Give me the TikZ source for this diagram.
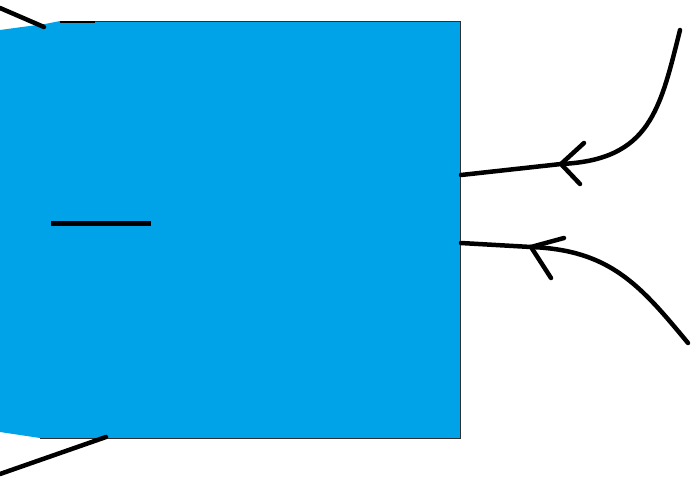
\documentclass[tikz,border=0pt]{standalone}
\definecolor{paintblue}{HTML}{00A2E8}
\definecolor{edgegray}{HTML}{303030}
\tikzset{
  pen/.style={line width=4.5pt, line cap=round, line join=round, black},
  barb/.style={line width=4.5pt, line cap=round, black},
  outline/.style={line width=1pt, draw=edgegray}
}
\begin{document}
\begin{tikzpicture}[x=1pt,y=-1pt]
\useasboundingbox (0,0) rectangle (696,477);
% blue body
\fill[paintblue] (0,30) -- (22,27) -- (45,24) -- (60,21) -- (460,21) -- (460,438) -- (40,438) -- (20,435) -- (0,432) -- cycle;
\draw[outline] (60,21) -- (460,21) -- (460,438) -- (40,438);
\draw[line width=2.5pt] (60,22) -- (95,22);
% left lines
\coordinate (tl0) at (0,8);
\coordinate (tl1) at (44,27);
\draw[pen] (tl0) -- (tl1);
\coordinate (bl0) at (0,474);
\coordinate (bl1) at (106,437);
\draw[pen] (bl0) -- (bl1);
% minus sign
\coordinate (m0) at (51,223.5);
\coordinate (m1) at (151,223.5);
\draw[line width=5pt] (m0) -- (m1);
% upper arrow
\coordinate (ua0) at (680,30);
\coordinate (ua1) at (561,164);
\coordinate (ua2) at (461,175);
\draw[pen] (ua0) .. controls (660,110) and (650,160) .. (ua1) -- (ua2);
\draw[barb] (584,143) -- (ua1) -- (580,184);
% lower arrow
\coordinate (la0) at (688,343);
\coordinate (la1) at (531,247);
\coordinate (la2) at (461,243);
\draw[pen] (la0) .. controls (640,285) and (610,250) .. (la1) -- (la2);
\draw[barb] (564,238) -- (la1) -- (551,278);
\end{tikzpicture}
\end{document}
